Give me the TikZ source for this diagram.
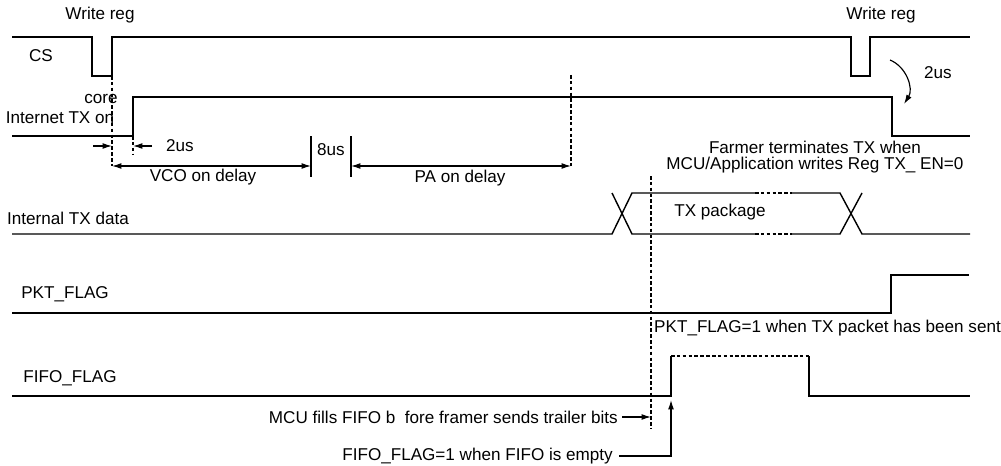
\documentclass[tikz,border=0pt]{standalone}
\usepackage{fontspec}
\setmainfont{Liberation Sans}
\usetikzlibrary{arrows.meta}
\begin{document}
\begin{tikzpicture}[x=0.3mm,y=-0.3mm,>={Latex[length=8pt,width=5pt]},
		wave/.style={line width=1.2pt},
		guide/.style={line width=1pt,dash pattern=on 3pt off 2pt},
		dim/.style={line width=1pt},
		lbl/.style={inner sep=0pt,font=\fontsize{14.6}{13}\selectfont}]

	\useasboundingbox (0,0) rectangle (1001,466);

	\node[lbl] (wr1) at (100,15) {Write reg};
	\node[lbl] (wr2) at (881,15) {Write reg};
	\node[lbl] (cs) at (41,56) {CS};
	\node[lbl] (core) at (101,99) {core};
	\node[lbl] (txon) at (60,118) {Internet TX on};
	\node[lbl] (us2a) at (180,146) {2us};
	\node[lbl] (vco) at (203,177) {VCO on delay};
	\node[lbl] (us8) at (331,150) {8us};
	\node[lbl] (pa) at (460,178) {PA on delay};
	\node[lbl] (us2b) at (938,73) {2us};
	\node[lbl,align=center] (farmer) at (815,157) {Farmer terminates TX when\\MCU/Application writes Reg TX\_ EN=0};
	\node[lbl] (txdata) at (68,218) {Internal TX data};
	\node[lbl] (txpkg) at (720,212) {TX package};
	\node[lbl] (pkt) at (65,294) {PKT\_FLAG};
	\node[lbl,anchor=west] (pktnote) at (654,328) {PKT\_FLAG=1 when TX packet has been sent};
	\node[lbl] (fifo) at (70,378) {FIFO\_FLAG};
	\node[lbl,anchor=east] (mcu) at (618,417) {MCU fills FIFO b\ \ fore framer sends trailer bits};
	\node[lbl,anchor=east] (fifonote) at (613,456) {FIFO\_FLAG=1 when FIFO is empty};

	% waveforms
	\draw[wave] (12,37) -- (92,37) -- (92,76) -- (112,76) coordinate (csup) -- (112,37) -- (851,37) -- (851,76) -- (870,76) -- (870,37) -- (970,37);
	\draw[wave] (12,136) -- (133,136) coordinate (txup) -- (133,97) -- (892,97) -- (892,136) -- (970,136);
	\draw[wave] (12,234) -- (612,234) -- (632,193) -- (755,193);
	\draw[wave] (612,193) -- (632,234) -- (755,234);
	\draw[wave] (792,193) -- (840,193) -- (862,234) -- (970,234);
	\draw[wave] (792,234) -- (840,234) -- (862,193);
	\draw[guide] (755,193) -- (792,193);
	\draw[guide] (755,234) -- (792,234);
	\draw[wave] (12,313) -- (891,313) -- (891,275) -- (969,275);
	\draw[wave] (12,396) -- (671,396) coordinate (fifoup) -- (671,356);
	\draw[guide] (671,356) -- (809,356);
	\draw[wave] (809,356) -- (809,396) -- (970,396);

	% markers
	\coordinate (vcol) at (112,166);
	\coordinate (vcor) at (311,166);
	\coordinate (pal) at (351,166);
	\coordinate (par) at (571,166);
	\coordinate (txend) at (651,428);
	\draw[guide] (csup) -- (vcol);
	\draw[guide] (txup) -- (133,155);
	\draw[guide] (571,75) -- (par);
	\draw[guide] (651,176) -- (txend);
	\draw[dim] (311,136) -- (311,177);
	\draw[dim] (351,136) -- (351,177);

	\draw[dim,<->] (vcol) -- (vcor);
	\draw[dim,<->] (pal) -- (par);
	\draw[dim,->] (93,146) -- (112,146);
	\draw[dim,->] (152,146) -- (133,146);
	\draw[dim,->] (890,60) to[bend left=50] (904,104);
	\draw[dim,->] (mcu.east) ++(4,0) -- (651,417);
	\draw[dim,->] (fifonote.east) ++(6,0) -- (671,456) -- (671,400);

\end{tikzpicture}
\end{document}
